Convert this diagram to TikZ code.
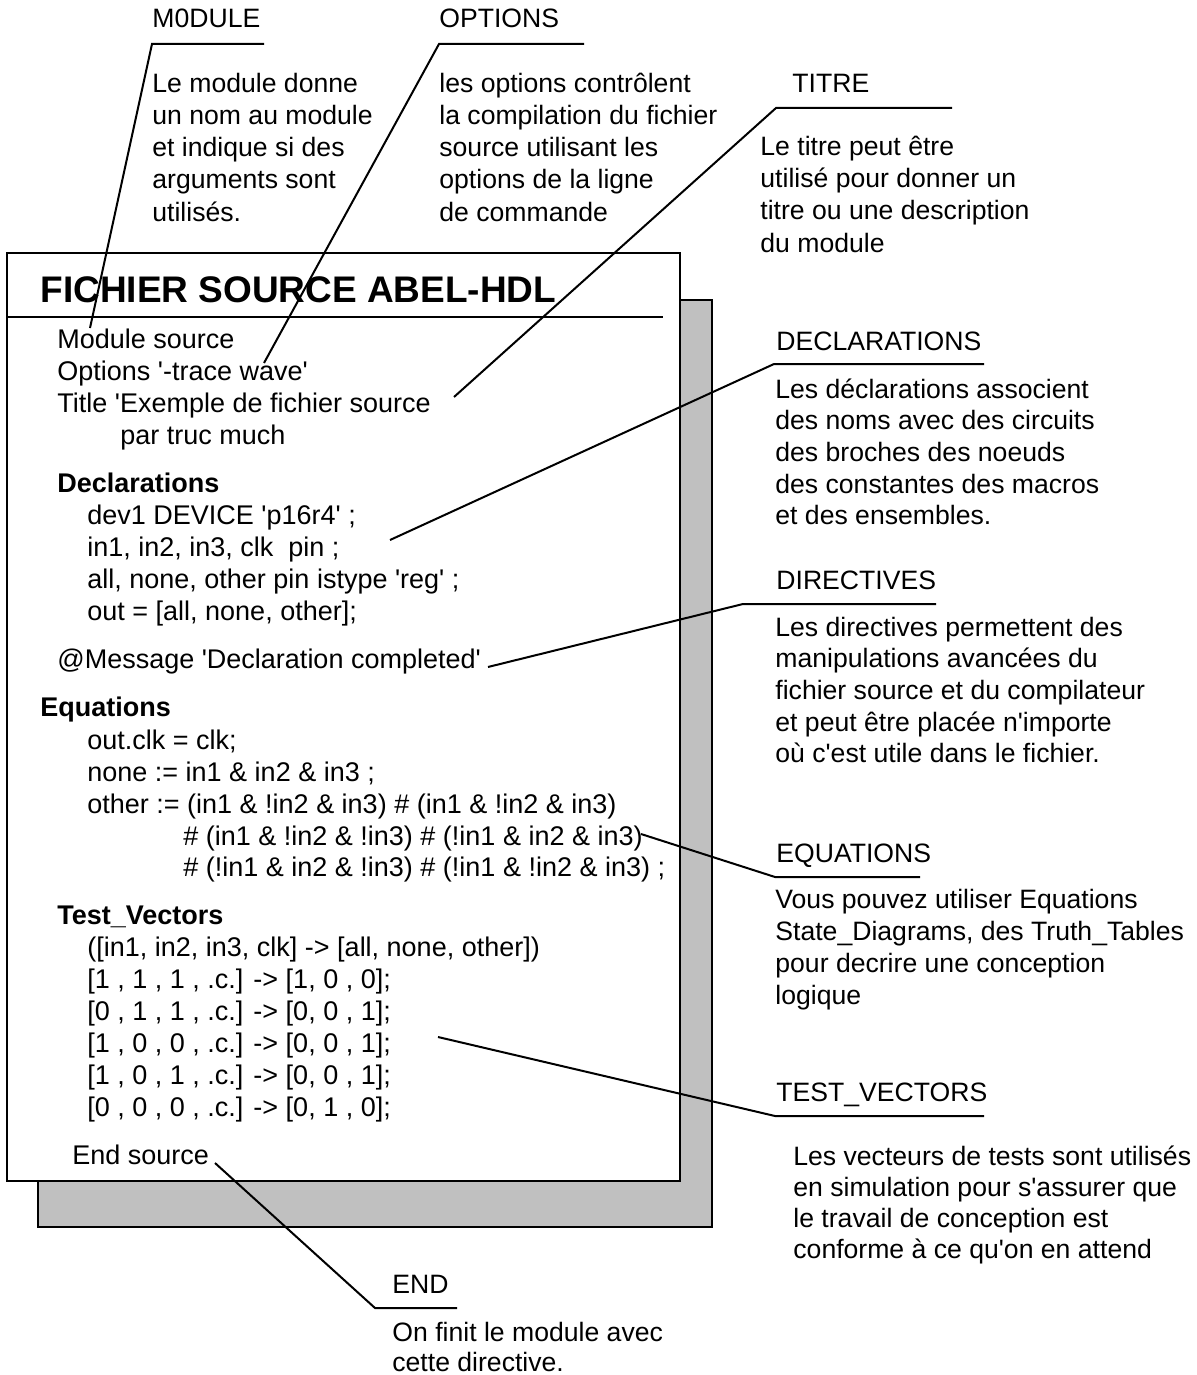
\documentclass[tikz,border=0pt]{standalone}
\usepackage{fontspec}
\newfontfamily\arial{Liberation Sans}
\usetikzlibrary{calc}
\definecolor{shadowgray}{RGB}{192,192,192}

\begin{document}
\begin{tikzpicture}[x=.5pt,y=-.5pt,
  txt/.style={anchor=base west,inner sep=0,font=\arial\fontsize{13.3}{16}\selectfont},
  code/.style={txt,font=\arial\fontsize{13.5}{16}\selectfont},
  head/.style={txt,font=\arial\bfseries\fontsize{13.5}{16}\selectfont},
  lead/.style={line width=1pt}]
\useasboundingbox (0,0) rectangle (1197,1375);

% la feuille et son ombre
\draw[fill=shadowgray,line width=1pt] (38,300) rectangle (712,1227);
\draw[fill=white,line width=1pt] (7,253) rectangle (680,1181);
\node[txt,font=\arial\bfseries\fontsize{18.5}{22}\selectfont] (titre) at (40,302) {FICHIER SOURCE ABEL-HDL};
\draw[line width=1pt] (7,317) -- (663,317);

% le fichier source
\node[code] (c-mod) at (57,348) {Module source};
\node[code] (c-opt) at (57,380) {Options '-trace wave'};
\node[code] (c-tit) at (57,412) {Title 'Exemple de fichier source};
\node[code] (c-tit2) at (120,444) {par truc much};
\node[head] (c-decl) at (57,492) {Declarations};
\node[code] (c-dev) at (87,524) {dev1 DEVICE 'p16r4' ;};
\node[code] (c-pin) at (87,556) {in1, in2, in3, clk\ \ pin ;};
\node[code] (c-reg) at (87,588) {all, none, other pin istype 'reg' ;};
\node[code] (c-set) at (87,620) {out = [all, none, other];};
\node[code] (c-msg) at (57,668) {@Message 'Declaration completed'};
\node[head] (c-eqs) at (40,716) {Equations};
\node[code] (c-clk) at (87,749) {out.clk = clk;};
\node[code] (c-none) at (87,781) {none := in1 \& in2 \& in3 ;};
\node[code] (c-oth1) at (87,813) {other := (in1 \& !in2 \& in3) \# (in1 \& !in2 \& in3)};
\node[code] (c-oth2) at (183,845) {\# (in1 \& !in2 \& !in3) \# (!in1 \& in2 \& in3)};
\node[code] (c-oth3) at (183,876) {\# (!in1 \& in2 \& !in3) \# (!in1 \& !in2 \& in3) ;};
\node[head] (c-tv) at (57,924) {Test\_Vectors};
\node[code] (c-tvh) at (87,956) {([in1, in2, in3, clk] -> [all, none, other])};
\foreach \t [count=\i] in {{[1 , 1 , 1 , .c.] -> [1, 0 , 0];},{[0 , 1 , 1 , .c.] -> [0, 0 , 1];},
  {[1 , 0 , 0 , .c.] -> [0, 0 , 1];},{[1 , 0 , 1 , .c.] -> [0, 0 , 1];},{[0 , 0 , 0 , .c.] -> [0, 1 , 0];}}
  \node[code] (c-tv\i) at (87,956+32*\i) {\t};
\node[code] (c-end) at (72,1164) {End source};

% les commentaires
\node[txt] (l-mod) at (152,28) {M0DULE};
\foreach \t [count=\i from 0] in {Le module donne,un nom au module,et indique si des,arguments sont,utilisés.}
  \node[txt] (d-mod\i) at (152,93+32*\i) {\t};
\node[txt] (l-opt) at (439,28) {OPTIONS};
\foreach \t [count=\i from 0] in {les options contrôlent,la compilation du fichier,source utilisant les,options de la ligne,de commande}
  \node[txt] (d-opt\i) at (439,93+32*\i) {\t};
\node[txt] (l-tit) at (792,93) {TITRE};
\foreach \t [count=\i from 0] in {Le titre peut être,utilisé pour donner un,titre ou une description,du module}
  \node[txt] (d-tit\i) at (760,156+32*\i) {\t};
\node[txt] (l-decl) at (776,350) {DECLARATIONS};
\foreach \t [count=\i from 0] in {Les déclarations associent,des noms avec des circuits,des broches des noeuds,des constantes des macros,et des ensembles.}
  \node[txt] (d-decl\i) at (775,398+31.7*\i) {\t};
\node[txt] (l-dir) at (776,589) {DIRECTIVES};
\foreach \t [count=\i from 0] in {Les directives permettent des,manipulations avancées du,fichier source et du compilateur,et peut être placée n'importe,où c'est utile dans le fichier.}
  \node[txt] (d-dir\i) at (775,636+31.7*\i) {\t};
\node[txt] (l-eqs) at (776,862) {EQUATIONS};
\foreach \t [count=\i from 0] in {Vous pouvez utiliser Equations,{State\_Diagrams, des Truth\_Tables},pour decrire une conception,logique}
  \node[txt] (d-eqs\i) at (775,908+32*\i) {\t};
\node[txt] (l-tv) at (776,1101) {TEST\_VECTORS};
\foreach \t [count=\i from 0] in {Les vecteurs de tests sont utilisés,en simulation pour s'assurer que,le travail de conception est,conforme à ce qu'on en attend}
  \node[txt] (d-tv\i) at (793,1165+31*\i) {\t};
\node[txt] (l-end) at (392,1293) {END};
\node[txt] (d-end0) at (392,1341) {On finit le module avec};
\node[txt] (d-end1) at (392,1371) {cette directive.};

% les traits de rappel
\coordinate (e-mod) at (90,328);   \coordinate (k-mod) at (152,44);   \coordinate (r-mod) at (264,44);
\coordinate (e-opt) at (264,363);  \coordinate (k-opt) at (439,44);   \coordinate (r-opt) at (584,44);
\coordinate (e-tit) at (454,397);  \coordinate (k-tit) at (776,108);  \coordinate (r-tit) at (952,108);
\coordinate (e-decl) at (390,540); \coordinate (k-decl) at (774,364); \coordinate (r-decl) at (984,364);
\coordinate (e-dir) at (488,667);  \coordinate (k-dir) at (743,604);  \coordinate (r-dir) at (936,604);
\coordinate (e-eqs) at (641,834);  \coordinate (k-eqs) at (775,877);  \coordinate (r-eqs) at (920,877);
\coordinate (e-tv) at (438,1037);  \coordinate (k-tv) at (775,1116);  \coordinate (r-tv) at (984,1116);
\coordinate (e-end) at (215,1163); \coordinate (k-end) at (375,1308); \coordinate (r-end) at (457,1308);
\foreach \n in {mod,opt,tit,decl,dir,eqs,tv,end}
  \draw[lead] (e-\n) -- (k-\n) -- (r-\n);
\end{tikzpicture}
\end{document}
